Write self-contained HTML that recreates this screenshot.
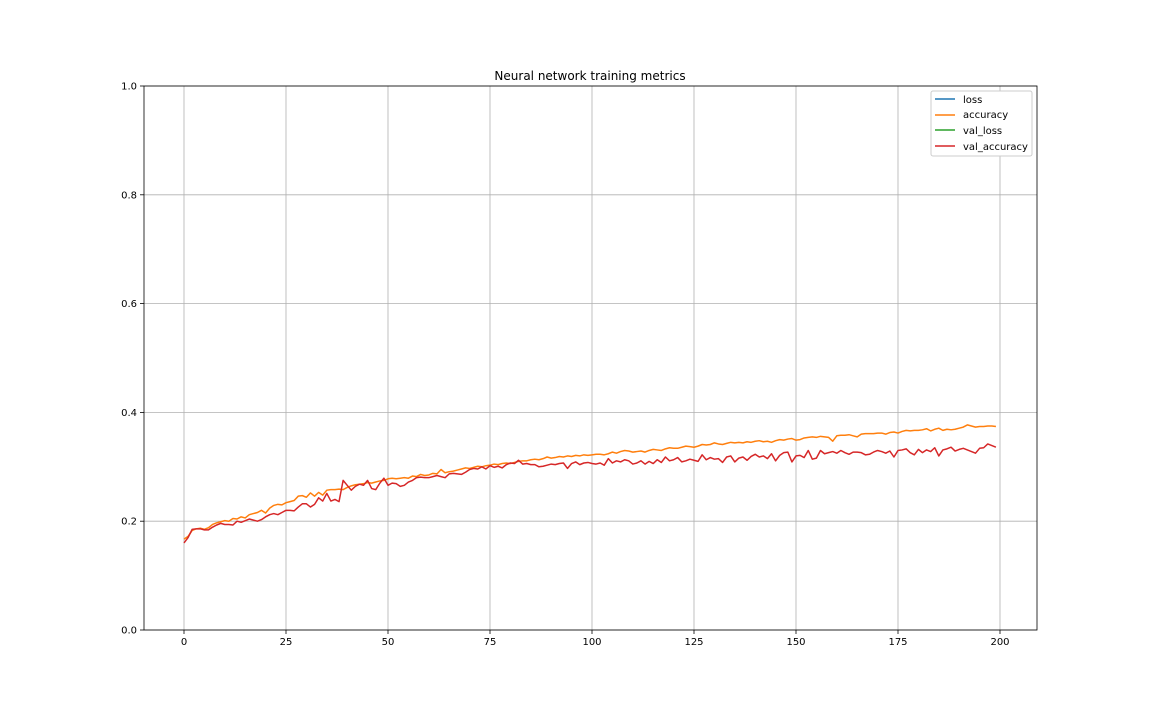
<!DOCTYPE html>
<html><head><meta charset="utf-8"><style>
body{margin:0;background:#fff;}
svg text{font-family:"DejaVu Sans","Liberation Sans",sans-serif;font-size:10px;fill:#000;}
</style></head><body>
<svg id="chart" width="1152" height="720" xmlns="http://www.w3.org/2000/svg">
<rect width="1152" height="720" fill="#fff"/>
<g id="grid"></g>
<g id="ticks"></g>
<g id="series"></g>
<rect x="144" y="86" width="893" height="544" fill="none" stroke="#000" stroke-width="0.8"/>
<text x="590" y="80" text-anchor="middle" style="font-size:12px">Neural network training metrics</text>
<g>
<rect x="931" y="91" width="101" height="65" rx="2" fill="#fff" stroke="#ccc" stroke-width="1"/>
<g><line x1="935" y1="99" x2="955" y2="99" stroke="#1f77b4" stroke-width="1.5"/><text x="963" y="103">loss</text></g>
<g><line x1="935" y1="115" x2="955" y2="115" stroke="#ff7f0e" stroke-width="1.5"/><text x="963" y="118">accuracy</text></g>
<g><line x1="935" y1="130" x2="955" y2="130" stroke="#2ca02c" stroke-width="1.5"/><text x="963" y="134">val_loss</text></g>
<g><line x1="935" y1="146" x2="955" y2="146" stroke="#d62728" stroke-width="1.5"/><text x="963" y="150">val_accuracy</text></g>
</g>
</svg>
<script>
const xTicks=[0,25,50,75,100,125,150,175,200];
const yTicks=[0.0,0.2,0.4,0.6,0.8,1.0];
const accuracy=[.167,.172,.183,.186,.187,.185,.188,.194,.197,.199,
.201,.200,.205,.204,.208,.206,.212,.214,.216,.220,
.215,.224,.229,.231,.230,.234,.236,.238,.246,.247,
.244,.252,.246,.253,.248,.257,.258,.258,.259,.258,
.262,.265,.267,.268,.269,.271,.270,.272,.274,.275,
.278,.279,.278,.279,.280,.279,.283,.282,.286,.284,
.285,.288,.287,.295,.289,.291,.292,.294,.296,.298,
.297,.299,.301,.300,.302,.303,.305,.304,.306,.307,
.306,.308,.310,.311,.311,.313,.314,.313,.315,.318,
.316,.317,.319,.318,.320,.319,.321,.320,.322,.321,
.322,.323,.323,.322,.324,.327,.325,.328,.330,.329,
.327,.328,.329,.327,.330,.332,.331,.330,.333,.335,
.334,.334,.336,.338,.337,.336,.338,.341,.340,.341,
.344,.342,.341,.343,.345,.344,.345,.344,.346,.345,
.347,.348,.346,.347,.345,.348,.350,.349,.351,.352,
.349,.350,.353,.354,.355,.354,.356,.355,.354,.347,
.357,.358,.358,.359,.357,.355,.360,.361,.361,.361,
.362,.362,.360,.363,.364,.362,.365,.367,.366,.367,
.367,.368,.370,.366,.369,.371,.367,.369,.368,.369,
.371,.373,.377,.375,.373,.374,.374,.375,.375,.374];
const valAccuracy=[.160,.170,.185,.186,.186,.184,.184,.189,.193,.196,
.194,.194,.193,.200,.198,.201,.204,.202,.200,.203,
.208,.212,.214,.212,.216,.220,.220,.219,.226,.232,
.232,.226,.231,.243,.237,.251,.237,.240,.236,.275,
.266,.257,.264,.268,.266,.275,.260,.258,.270,.279,
.266,.270,.269,.264,.266,.272,.275,.280,.281,.280,
.280,.282,.284,.282,.280,.287,.288,.287,.286,.290,
.295,.297,.296,.300,.296,.302,.299,.301,.298,.304,
.307,.306,.312,.305,.306,.304,.304,.300,.301,.303,
.305,.304,.306,.307,.297,.306,.309,.304,.307,.308,
.306,.305,.307,.303,.315,.307,.311,.309,.313,.311,
.305,.307,.311,.305,.310,.306,.313,.308,.318,.311,
.313,.317,.309,.311,.314,.312,.310,.322,.313,.317,
.314,.315,.308,.318,.320,.309,.316,.318,.312,.319,
.323,.318,.320,.315,.324,.311,.321,.326,.327,.309,
.320,.321,.317,.330,.314,.316,.330,.324,.326,.328,
.325,.330,.326,.323,.327,.327,.326,.322,.323,.327,
.330,.328,.325,.329,.318,.330,.331,.333,.326,.322,
.332,.326,.331,.328,.335,.320,.331,.333,.336,.329,
.332,.334,.331,.328,.325,.334,.335,.342,.339,.336];
const NS='http://www.w3.org/2000/svg';
function xs(v){return 184+v*4.08;}
function ys(v){return 630-v*544;}
const grid=document.getElementById('grid'),ticks=document.getElementById('ticks'),ser=document.getElementById('series');
function mk(t,a,p){const e=document.createElementNS(NS,t);for(const k in a)e.setAttribute(k,a[k]);p.appendChild(e);return e;}
xTicks.forEach(t=>{
 const g=mk('line',{x1:xs(t),x2:xs(t),y1:86,y2:630,stroke:'#b0b0b0','stroke-width':0.8},grid);
 
 
 mk('line',{x1:xs(t),x2:xs(t),y1:630,y2:634,stroke:'#000','stroke-width':0.8},ticks);
 const l=mk('text',{x:xs(t),y:645,'text-anchor':'middle'},ticks);l.textContent=t;
 
 
});
yTicks.forEach(t=>{
 const g=mk('line',{x1:144,x2:1037,y1:ys(t),y2:ys(t),stroke:'#b0b0b0','stroke-width':0.8},grid);
 
 
 mk('line',{x1:140,x2:144,y1:ys(t),y2:ys(t),stroke:'#000','stroke-width':0.8},ticks);
 const l=mk('text',{x:137,y:ys(t)+3.5,'text-anchor':'end'},ticks);l.textContent=t.toFixed(1);
 
 
});
function line(arr,color,name){
 const p=mk('polyline',{points:arr.map((v,i)=>xs(i)+','+ys(v)).join(' '),fill:'none',stroke:color,'stroke-width':1.5,'stroke-linejoin':'round'},ser);
 
 
}
line(accuracy,'#ff7f0e','accuracy-line');
line(valAccuracy,'#d62728','val-accuracy-line');
</script>
</body></html>
